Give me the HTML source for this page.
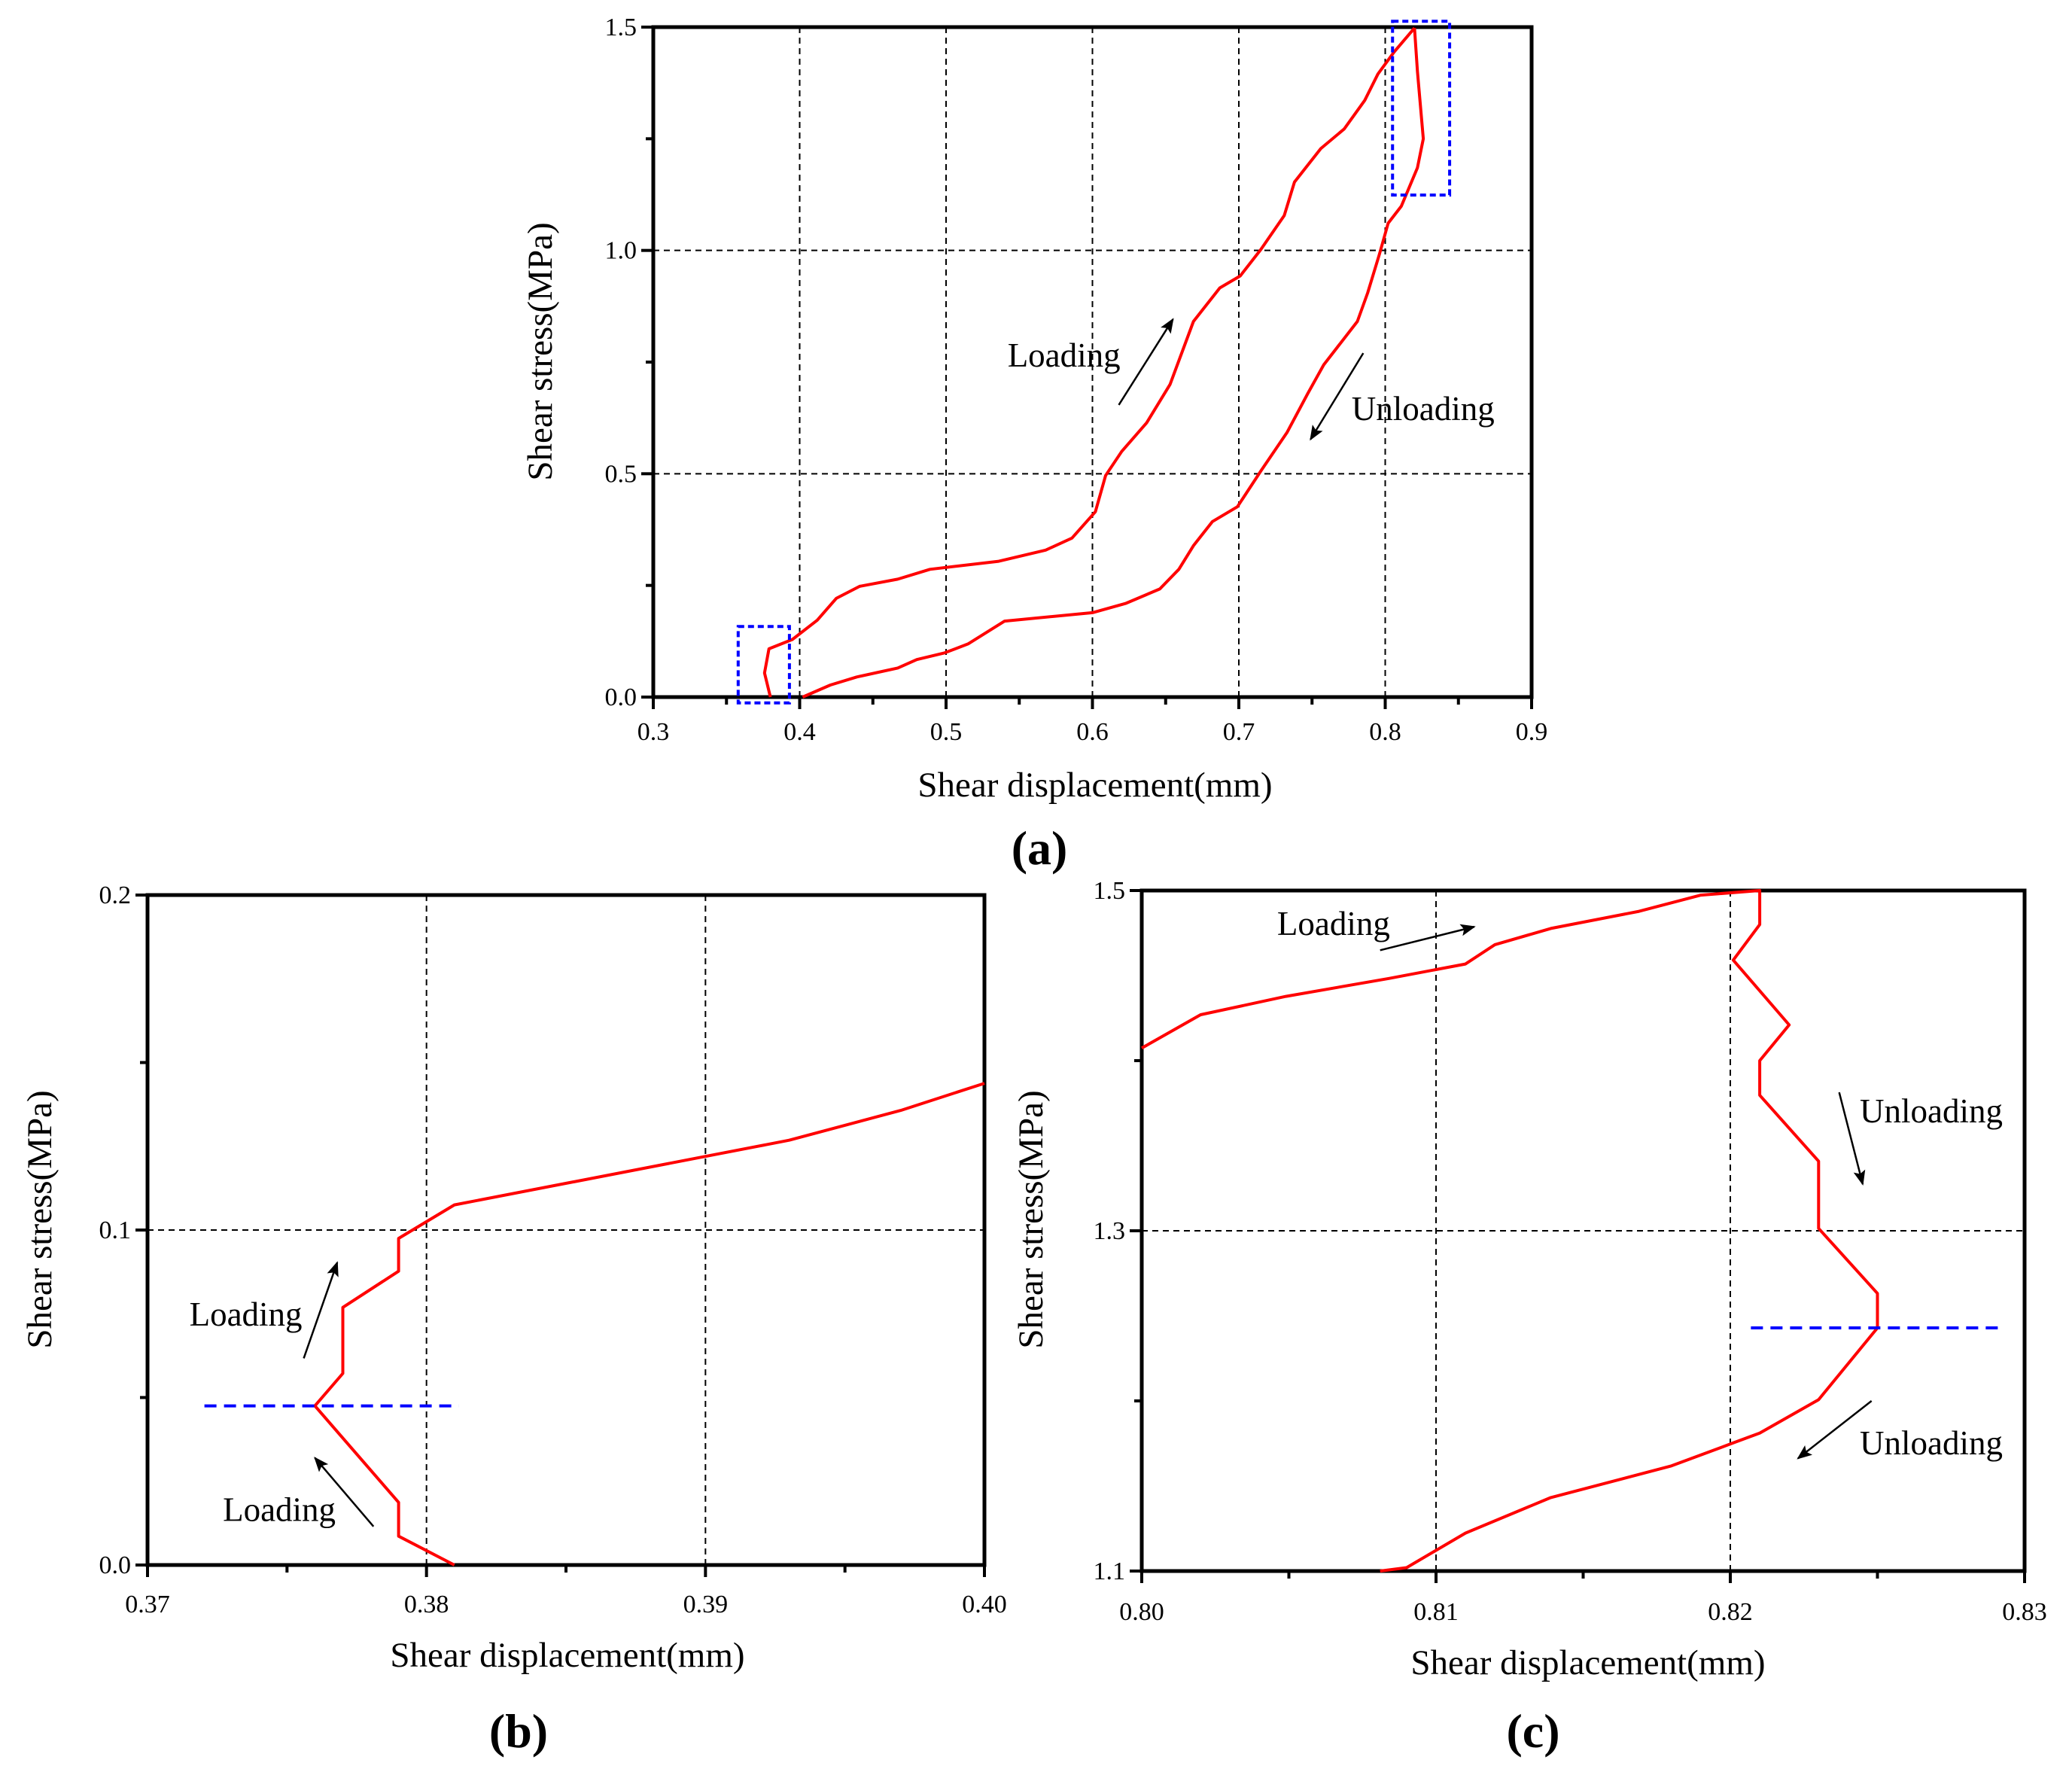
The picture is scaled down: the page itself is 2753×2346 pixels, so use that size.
<!DOCTYPE html>
<html><head><meta charset="utf-8">
<style>
html,body{margin:0;padding:0;background:#fff;}
svg{display:block;}
text{font-family:"Liberation Serif",serif;fill:#000;}
</style></head>
<body>
<svg id="fig" width="2753" height="2346" viewBox="0 0 2753 2346" xmlns="http://www.w3.org/2000/svg"></svg>
<script>
// ---- Panel (a) data ----
const aLoadX = [0.380,0.376,0.379,0.395,0.412,0.425,0.441,0.467,0.489,0.536,0.568,0.586,0.602,0.609,0.620,0.637,0.653,0.669,0.687,0.701,0.715,0.731,0.738,0.756,0.772,0.786,0.795,0.806,0.820];
const aLoadY = [0,0.054,0.108,0.129,0.172,0.221,0.248,0.264,0.286,0.304,0.329,0.356,0.415,0.496,0.550,0.614,0.700,0.841,0.916,0.943,1.002,1.078,1.153,1.228,1.272,1.336,1.395,1.444,1.498];
const aUnloadX = [0.820,0.822,0.826,0.822,0.811,0.802,0.796,0.788,0.781,0.758,0.747,0.733,0.715,0.699,0.682,0.669,0.659,0.646,0.623,0.600,0.540,0.515,0.499,0.480,0.467,0.439,0.421,0.402];
const aUnloadY = [1.498,1.401,1.250,1.185,1.099,1.061,0.991,0.905,0.841,0.744,0.679,0.593,0.506,0.426,0.393,0.339,0.286,0.242,0.210,0.189,0.170,0.119,0.099,0.084,0.065,0.045,0.027,0];
const aXTicks = ["0.3","0.4","0.5","0.6","0.7","0.8","0.9"];
const aYTicks = ["0.0","0.5","1.0","1.5"];
// ---- Panel (b) data ----
const bX = [0.381,0.379,0.379,0.376,0.377,0.377,0.379,0.379,0.381,0.393,0.397,0.400];
const bY = [0,0.0086,0.0187,0.0475,0.0572,0.0769,0.0877,0.0975,0.1075,0.1268,0.1357,0.1438];
const bXTicks = ["0.37","0.38","0.39","0.40"];
const bYTicks = ["0.0","0.1","0.2"];
// ---- Panel (c) data ----
const cX = [0.800,0.802,0.8049,0.8084,0.811,0.812,0.8139,0.8169,0.819,0.821,0.821,0.8201,0.822,0.821,0.821,0.823,0.823,0.825,0.825,0.823,0.821,0.8201,0.818,0.8139,0.811,0.809,0.8081];
const cY = [1.4074,1.427,1.4378,1.4483,1.4568,1.4682,1.4777,1.4878,1.4973,1.5,1.480,1.4591,1.421,1.400,1.3797,1.3409,1.3014,1.2632,1.2429,1.2007,1.1811,1.1753,1.1618,1.1432,1.1223,1.102,1.1];
const cXTicks = ["0.80","0.81","0.82","0.83"];
const cYTicks = ["1.1","1.3","1.5"];

const NS="http://www.w3.org/2000/svg";
const svg=document.getElementById('fig');
function mk(tag,attrs,parent){const e=document.createElementNS(NS,tag);for(const k in attrs)e.setAttribute(k,attrs[k]);(parent||svg).appendChild(e);return e;}
const defs=mk('defs',{});
const mar=mk('marker',{id:'ah',viewBox:'0 0 10 10',refX:'9',refY:'5',markerWidth:'12',markerHeight:'8',orient:'auto',markerUnits:'strokeWidth'},defs);
mk('path',{d:'M0,1 L10,5 L0,9 L2,5 z',fill:'#000'},mar);

function panel(p){
  const g=mk('g',{});
  
  
  const sx=v=>p.L+(v-p.x0)/(p.x1-p.x0)*(p.R-p.L);
  const sy=v=>p.B-(v-p.y0)/(p.y1-p.y0)*(p.B-p.T);
  p.sx=sx;p.sy=sy;
  p.gridX.forEach(v=>{const l=mk('line',{x1:sx(v),x2:sx(v),y1:p.T,y2:p.B,stroke:'#000','stroke-width':2,'stroke-dasharray':'8,6'},g);
    });
  p.gridY.forEach(v=>{const l=mk('line',{x1:p.L,x2:p.R,y1:sy(v),y2:sy(v),stroke:'#000','stroke-width':2,'stroke-dasharray':'8,6'},g);
    });
  const xt=p.xTicks.map(Number), yt=p.yTicks.map(Number);
  xt.forEach((v,i)=>{mk('line',{x1:sx(v),x2:sx(v),y1:p.B,y2:p.B+16,stroke:'#000','stroke-width':4},g);
    const t=mk('text',{x:sx(v),y:p.xLabY,'text-anchor':'middle','font-size':34},g);t.textContent=p.xTicks[i];
    
    if(i<xt.length-1){const m=(v+xt[i+1])/2;mk('line',{x1:sx(m),x2:sx(m),y1:p.B,y2:p.B+10,stroke:'#000','stroke-width':4},g);}
  });
  yt.forEach((v,i)=>{mk('line',{x1:p.L-16,x2:p.L,y1:sy(v),y2:sy(v),stroke:'#000','stroke-width':4},g);
    const t=mk('text',{x:p.L-22,y:sy(v)+11,'text-anchor':'end','font-size':34},g);t.textContent=p.yTicks[i];
    
    if(i<yt.length-1){const m=(v+yt[i+1])/2;mk('line',{x1:p.L-10,x2:p.L,y1:sy(m),y2:sy(m),stroke:'#000','stroke-width':4},g);}
  });
  const fr=mk('rect',{x:p.L,y:p.T,width:p.R-p.L,height:p.B-p.T,fill:'none',stroke:'#000','stroke-width':5},g);
  
  const xt2=mk('text',{x:p.xTitleX,y:p.xTitleY,'text-anchor':'middle','font-size':47},g);xt2.textContent='Shear displacement(mm)';
  
  const yt2=mk('text',{x:0,y:0,'text-anchor':'middle','font-size':47,transform:`translate(${p.yTitleX},${p.yTitleY}) rotate(-90)`},g);yt2.textContent='Shear stress(MPa)';
  
  const lab=mk('text',{x:p.labX,y:p.labY,'text-anchor':'middle','font-size':64,'font-weight':'bold'},g);lab.textContent=p.label;
  
  return g;
}
function curve(g,p,xs,ys,name){
  const pts=xs.map((x,i)=>p.sx(x).toFixed(1)+','+p.sy(ys[i]).toFixed(1)).join(' ');
  const pl=mk('polyline',{points:pts,fill:'none',stroke:'#ff0000','stroke-width':4,'stroke-linejoin':'round'},g);
  
}
function arrow(g,p,x1,y1,x2,y2){
  const a=mk('line',{x1:p.sx(x1),y1:p.sy(y1),x2:p.sx(x2),y2:p.sy(y2),stroke:'#000','stroke-width':2.5,'marker-end':'url(#ah)'},g);
  
}
function note(g,p,x,y,s){
  const t=mk('text',{x:p.sx(x),y:p.sy(y),'font-size':45},g);t.textContent=s;
  
}
function bluebox(g,p,x0,x1,y0,y1){
  const r=mk('rect',{x:p.sx(x0),y:p.sy(y1),width:p.sx(x1)-p.sx(x0),height:p.sy(y0)-p.sy(y1),fill:'none',stroke:'#0000ff','stroke-width':4,'stroke-dasharray':'8,5'},g);
  
}
function blueline(g,p,x0,x1,y){
  const l=mk('line',{x1:p.sx(x0),x2:p.sx(x1),y1:p.sy(y),y2:p.sy(y),stroke:'#0000ff','stroke-width':4,'stroke-dasharray':'16,10'},g);
  
}

const pa={name:'panel-a',L:868,R:2035,T:36,B:926,x0:0.3,x1:0.9,y0:0,y1:1.5,xTicks:aXTicks,yTicks:aYTicks,
  gridX:[0.4,0.5,0.6,0.7,0.8],gridY:[0.5,1.0],xLabY:983,xTitleX:1455,xTitleY:1058,yTitleX:733,yTitleY:467,labX:1381,labY:1148,label:'(a)'};
const ga=panel(pa);
curve(ga,pa,aLoadX,aLoadY,'loading-curve');
curve(ga,pa,aUnloadX,aUnloadY,'unloading-curve');
bluebox(ga,pa,0.358,0.393,-0.013,0.158);
bluebox(ga,pa,0.805,0.844,1.124,1.513);
arrow(ga,pa,0.618,0.654,0.655,0.846);
arrow(ga,pa,0.785,0.770,0.749,0.577);
note(ga,pa,0.542,0.74,'Loading');
note(ga,pa,0.777,0.62,'Unloading');

const pb={name:'panel-b',L:196,R:1308,T:1189,B:2079,x0:0.37,x1:0.40,y0:0,y1:0.2,xTicks:bXTicks,yTicks:bYTicks,
  gridX:[0.38,0.39],gridY:[0.1],xLabY:2142,xTitleX:754,xTitleY:2214,yTitleX:68,yTitleY:1620,labX:689,labY:2321,label:'(b)'};
const gb=panel(pb);
curve(gb,pb,bX,bY,'loading-curve');
blueline(gb,pb,0.37204,0.38116,0.0475);
arrow(gb,pb,0.3756,0.0617,0.3768,0.0903);
arrow(gb,pb,0.3781,0.0115,0.3760,0.032);
note(gb,pb,0.3715,0.0715,'Loading');
note(gb,pb,0.3727,0.0132,'Loading');

const pc={name:'panel-c',L:1517,R:2690,T:1183,B:2087,x0:0.80,x1:0.83,y0:1.1,y1:1.5,xTicks:cXTicks,yTicks:cYTicks,
  gridX:[0.81,0.82],gridY:[1.3],xLabY:2152,xTitleX:2110,xTitleY:2224,yTitleX:1385,yTitleY:1620,labX:2037,labY:2321,label:'(c)'};
const gc=panel(pc);
curve(gc,pc,cX,cY,'loading-unloading-curve');
blueline(gc,pc,0.8207,0.8291,1.2429);
arrow(gc,pc,0.8081,1.4649,0.8113,1.4787);
arrow(gc,pc,0.8237,1.3814,0.8245,1.3274);
arrow(gc,pc,0.8248,1.2,0.8223,1.1662);
note(gc,pc,0.8046,1.474,'Loading');
note(gc,pc,0.8244,1.3638,'Unloading');
note(gc,pc,0.8244,1.1686,'Unloading');
</script>
</body></html>
